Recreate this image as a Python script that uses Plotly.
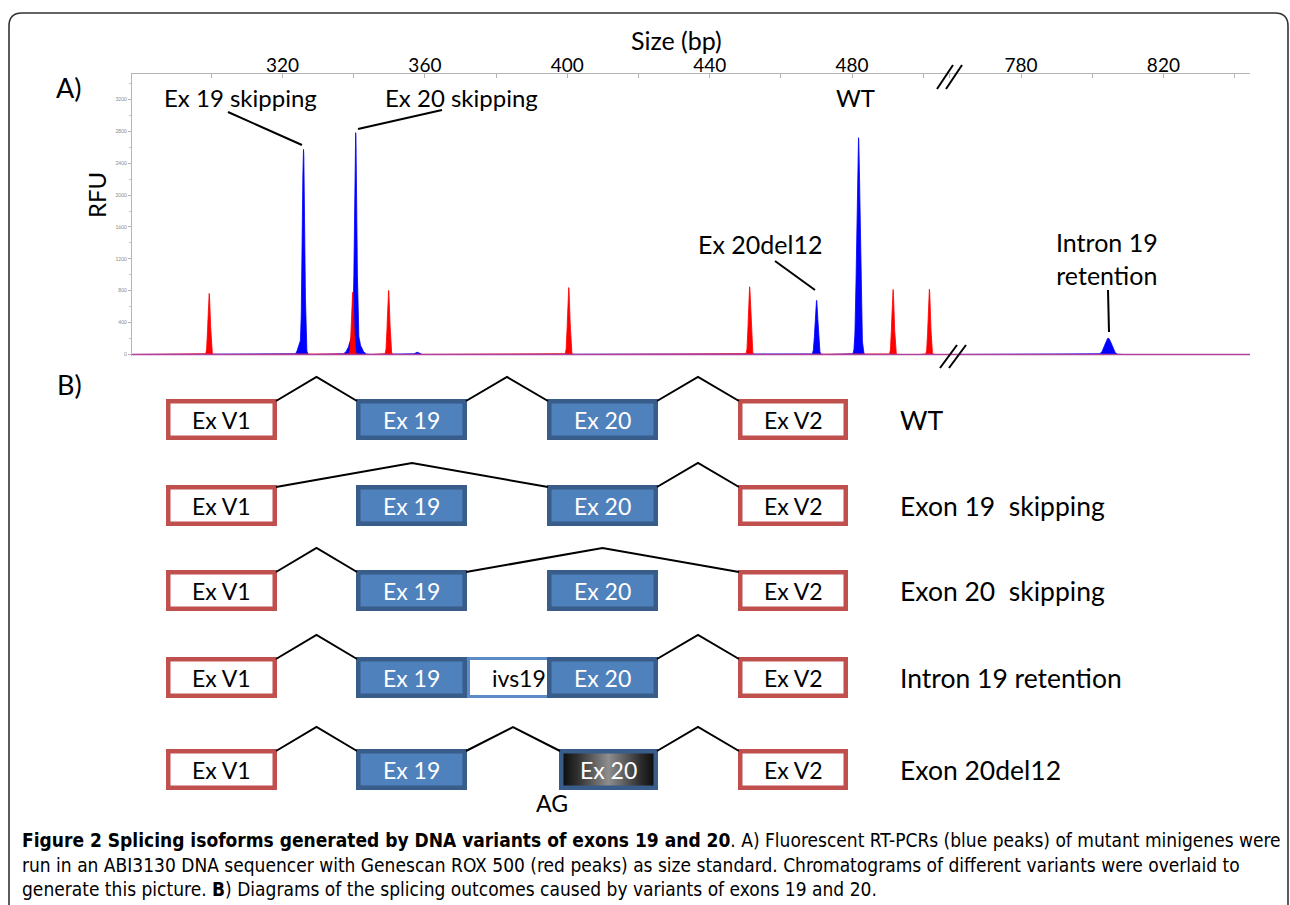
import numpy as np
import plotly.graph_objects as go

W, H = 1290, 905
FONT = "Lato, Carlito, Calibri, 'Open Sans', sans-serif"
CAP_FONT = "'DejaVu Sans Condensed', 'Liberation Sans Narrow', 'Roboto', sans-serif"

# ---------------- Panel A data ----------------
BLUE_SIZE_L = [324.7, 325.9, 340.3, 340.55, 357.7, 470.0, 481.8]
BLUE_RFU_L = [115, 2570, 290, 2500, 30, 680, 2720]
BLUE_SD_L = [0.45, 0.34, 1.2, 0.32, 0.5, 0.4, 0.47]
BLUE_SIZE_R = [804.5]
BLUE_RFU_R = [205]
BLUE_SD_R = [0.95]
RED_SIZE = [299.4, 339.7, 349.8, 400.4, 451.2, 491.5, 501.7]
RED_RFU = [766, 780, 804, 840, 850, 816, 820]
RED_SD = 0.33

X_TICKS_L = [300, 320, 340, 360, 380, 400, 420, 440, 460, 480, 500]
X_LABELS_L = ["", "320", "", "360", "", "400", "", "440", "", "480", ""]
X_TICKS_R = [760, 780, 800, 820, 840]
X_LABELS_R = ["", "780", "", "820", ""]
Y_TICKS = [0, 400, 800, 1200, 1600, 2000, 2400, 2800, 3200]
Y_LABELS = ["0", "400", "800", "1200", "1600", "2000", "2400", "2800", "3200"]

PEAK_LABELS = ["Ex 19 skipping", "Ex 20 skipping", "WT", "Ex 20del12", "Intron 19<br>retention"]

# ---------------- Panel B data ----------------
SEGMENT_LABELS = {"V1": "Ex V1", "E19": "Ex 19", "E20": "Ex 20", "V2": "Ex V2",
                  "IVS": "ivs19", "E20d": "Ex 20"}
ISOFORMS = ["WT", "Exon 19  skipping", "Exon 20  skipping", "Intron 19 retention", "Exon 20del12"]
ROW_SEGMENTS = [
    ["V1", "E19", "E20", "V2"],
    ["V1", "E19", "E20", "V2"],
    ["V1", "E19", "E20", "V2"],
    ["V1", "IVS", "E19", "E20", "V2"],
    ["V1", "E19", "E20d", "V2"],
]
SPLICE_PATHS = [
    ["V1", "E19", "E20", "V2"],
    ["V1", "E20", "V2"],
    ["V1", "E19", "V2"],
    ["V1", "E19", "IVS", "E20", "V2"],
    ["V1", "E19", "E20d", "V2"],
]
CAPTION = [
    "<b>Figure 2 Splicing isoforms generated by DNA variants of exons 19 and 20</b>. A) Fluorescent RT-PCRs (blue peaks) of mutant minigenes were",
    "run in an ABI3130 DNA sequencer with Genescan ROX 500 (red peaks) as size standard. Chromatograms of different variants were overlaid to",
    "generate this picture. <b>B</b>) Diagrams of the splicing outcomes caused by variants of exons 19 and 20.",
]

# ---------------- layout geometry (pixels) ----------------
PLOT_L, PLOT_BRK, PLOT_R = 132, 945, 1250
PLOT_T, PLOT_B = 74, 356
PX_PER_BP = 3.56
X400_PX, X780_PX = 567.3, 1021
RANGE_L = [400 - (X400_PX - PLOT_L) / PX_PER_BP, 400 + (PLOT_BRK - X400_PX) / PX_PER_BP]
RANGE_R = [780 - (X780_PX - PLOT_BRK) / PX_PER_BP, 780 + (PLOT_R - X780_PX) / PX_PER_BP]
ZERO_PX = 354.5
RFU_PER_PX = 1 / 0.0797
RANGE_Y = [-(PLOT_B - ZERO_PX) * RFU_PER_PX, (ZERO_PX - PLOT_T) * RFU_PER_PX]

BOX_X = {"V1": (166, 277), "E19": (356, 467), "E20": (547, 658), "V2": (738, 848),
         "IVS": (467, 564), "E20d": (559, 658)}
ROW_TOP = [399, 485, 570, 657, 749]
BOX_H = 41
RISE = 22


def peaks(grid, centers, heights, sds):
    if np.isscalar(sds):
        sds = [sds] * len(centers)
    y = np.zeros_like(grid)
    for c, h, s in zip(centers, heights, sds):
        y += h * np.exp(-0.5 * ((grid - c) / s) ** 2)
    return y


fig = go.Figure()

grid_l = np.union1d(np.arange(RANGE_L[0], RANGE_L[1], 0.04), BLUE_SIZE_L + RED_SIZE)
grid_r = np.union1d(np.arange(RANGE_R[0], RANGE_R[1], 0.04), BLUE_SIZE_R)

fig.add_trace(go.Scatter(x=grid_l, y=peaks(grid_l, BLUE_SIZE_L, BLUE_RFU_L, BLUE_SD_L),
                         mode="lines", line=dict(color="#0000ff", width=0.8),
                         fill="tozeroy", fillcolor="#0000ff", xaxis="x", yaxis="y"))
fig.add_trace(go.Scatter(x=grid_l, y=peaks(grid_l, RED_SIZE, RED_RFU, RED_SD),
                         mode="lines", line=dict(color="#ff0000", width=0.8),
                         fill="tozeroy", fillcolor="#ff0000", xaxis="x", yaxis="y"))
fig.add_trace(go.Scatter(x=grid_r, y=peaks(grid_r, BLUE_SIZE_R, BLUE_RFU_R, BLUE_SD_R),
                         mode="lines", line=dict(color="#0000ff", width=0.8),
                         fill="tozeroy", fillcolor="#0000ff", xaxis="x2", yaxis="y2"))
fig.add_trace(go.Scatter(x=RANGE_L, y=[0, 0], mode="lines",
                         line=dict(color="#b0409a", width=1.3), xaxis="x", yaxis="y"))
fig.add_trace(go.Scatter(x=RANGE_R, y=[0, 0], mode="lines",
                         line=dict(color="#b0409a", width=1.3), xaxis="x2", yaxis="y2"))

shapes = []
annotations = []


def ann(x, y, text, size, color="black", xanchor="center", family=FONT, **kw):
    annotations.append(dict(x=x, y=y, xref="x3", yref="y3", text=text, showarrow=False,
                            xanchor=xanchor, yanchor="middle",
                            font=dict(family=family, size=size, color=color), **kw))


def line(x0, y0, x1, y1, color="black", width=2):
    shapes.append(dict(type="line", xref="x3", yref="y3", x0=x0, y0=y0, x1=x1, y1=y1,
                       line=dict(color=color, width=width)))


# outer frame
shapes.append(dict(type="path", xref="x3", yref="y3",
                   path="M 9,930 L 9,26 Q 9,13 22,13 L 1275,13 Q 1288,13 1288,26 L 1288,930",
                   line=dict(color="#333333", width=1.6)))

# panel letters and axis titles
ann(69, 87, "A)", 27)
ann(69, 384, "B)", 27)
ann(676, 40, "Size (bp)", 25)
ann(96, 195, "RFU", 24, textangle=-90)

# peak labels with pointers
ann(240, 97, PEAK_LABELS[0], 24)
ann(461, 97, PEAK_LABELS[1], 24)
ann(855, 97, PEAK_LABELS[2], 24)
ann(760, 244, PEAK_LABELS[3], 25)
ann(1107, 258, PEAK_LABELS[4], 25)
line(228, 112, 302, 145)
line(442, 110, 358, 129)
line(775, 261, 815, 290)
line(1108, 290, 1109, 332)

# axis break marks
for dx in (0, 9):
    line(937 + dx, 89, 953 + dx, 65)
    line(940 + dx, 368, 957 + dx, 345)

# ---------------- Panel B diagrams ----------------
STYLE = {
    "V1": ("#ffffff", "#c0504d", 4.5, "black"),
    "V2": ("#ffffff", "#c0504d", 4.5, "black"),
    "E19": ("#4f81bd", "#385d8a", 4.5, "white"),
    "E20": ("#4f81bd", "#385d8a", 4.5, "white"),
    "IVS": ("#ffffff", "#5b8cc8", 3, "black"),
    "E20d": (None, "#385d8a", 4.5, "white"),
}

for r, segs in enumerate(ROW_SEGMENTS):
    top = ROW_TOP[r]
    bot = top + BOX_H
    for s in segs:
        x0, x1 = BOX_X[s]
        fill, border, lw, tcol = STYLE[s]
        h = lw / 2
        if fill is None:
            fig.add_trace(go.Scatter(
                x=[x0, x1, x1, x0, x0], y=[top, top, bot, bot, top], mode="lines",
                line=dict(width=0), fill="toself",
                fillgradient=dict(type="horizontal",
                                  colorscale=[[0, "#050505"], [0.18, "#2e2e2e"],
                                              [0.5, "#8e8e8e"], [0.82, "#2e2e2e"],
                                              [1, "#050505"]]),
                xaxis="x3", yaxis="y3"))
            shapes.append(dict(type="rect", xref="x3", yref="y3", x0=x0 + h, x1=x1 - h,
                               y0=top + h, y1=bot - h, line=dict(color=border, width=lw)))
        else:
            shapes.append(dict(type="rect", xref="x3", yref="y3", x0=x0 + h, x1=x1 - h,
                               y0=top + h, y1=bot - h, fillcolor=fill,
                               line=dict(color=border, width=lw)))
        cx = (x0 + x1) / 2 + (3 if s == "IVS" else 0)
        ann(cx, (top + bot) / 2, SEGMENT_LABELS[s], 23, color=tcol)
    # splice connectors
    path = SPLICE_PATHS[r]
    for a, b in zip(path[:-1], path[1:]):
        if "IVS" in (a, b):
            continue
        xa = BOX_X[a][1] - 1
        xb = BOX_X[b][0] + 1
        ym = top + 2
        shapes.append(dict(type="path", xref="x3", yref="y3",
                           path=f"M {xa},{ym} L {(xa + xb) / 2},{top - RISE} L {xb},{ym}",
                           line=dict(color="black", width=2)))
    ann(898, top + BOX_H / 2, ISOFORMS[r], 26.5, xanchor="left")

ann(552, 803, "AG", 23)

# caption
for i, txt in enumerate(CAPTION):
    ann(20, 840 + 24.5 * i, txt, 19, xanchor="left", family=CAP_FONT)

fig.update_layout(
    width=W, height=H, margin=dict(l=0, r=0, t=0, b=0),
    paper_bgcolor="white", plot_bgcolor="rgba(0,0,0,0)", showlegend=False,
    hovermode=False,
    xaxis=dict(domain=[PLOT_L / W, PLOT_BRK / W], range=RANGE_L, side="top", anchor="y",
               tickmode="array", tickvals=X_TICKS_L, ticktext=X_LABELS_L,
               ticks="inside", ticklen=4, tickcolor="#b5b5b5", ticklabelstandoff=-7,
               showline=True, linecolor="#b5b5b5", linewidth=1, showgrid=False, zeroline=False,
               tickfont=dict(family=FONT, size=19, color="black")),
    xaxis2=dict(domain=[PLOT_BRK / W, PLOT_R / W], range=RANGE_R, side="top", anchor="y2",
                tickmode="array", tickvals=X_TICKS_R, ticktext=X_LABELS_R,
                ticks="inside", ticklen=4, tickcolor="#b5b5b5", ticklabelstandoff=-7,
                showline=True, linecolor="#b5b5b5", linewidth=1, showgrid=False, zeroline=False,
                tickfont=dict(family=FONT, size=19, color="black")),
    yaxis=dict(domain=[1 - PLOT_B / H, 1 - PLOT_T / H], range=RANGE_Y, anchor="x",
               tickmode="array", tickvals=Y_TICKS, ticktext=Y_LABELS,
               ticks="outside", ticklen=3, tickcolor="#b5b5b5",
               minor=dict(tickmode="linear", tick0=0, dtick=200, ticks="outside",
                          ticklen=2, tickcolor="#c8c8c8"),
               showline=True, linecolor="#b5b5b5", linewidth=1, showgrid=False, zeroline=False,
               tickfont=dict(family=FONT, size=5, color="#8a8a8a")),
    yaxis2=dict(domain=[1 - PLOT_B / H, 1 - PLOT_T / H], range=RANGE_Y, anchor="x2",
                visible=False, showgrid=False, zeroline=False),
    xaxis3=dict(domain=[0, 1], range=[0, W], anchor="y3", visible=False,
                showgrid=False, zeroline=False),
    yaxis3=dict(domain=[0, 1], range=[H, 0], anchor="x3", visible=False,
                showgrid=False, zeroline=False),
    shapes=shapes, annotations=annotations,
)

fig.write_html("out.html", include_plotlyjs=True, full_html=True,
               config={"displayModeBar": False, "staticPlot": True},
               post_script="document.body.style.margin='0';document.body.style.overflow='hidden';")
